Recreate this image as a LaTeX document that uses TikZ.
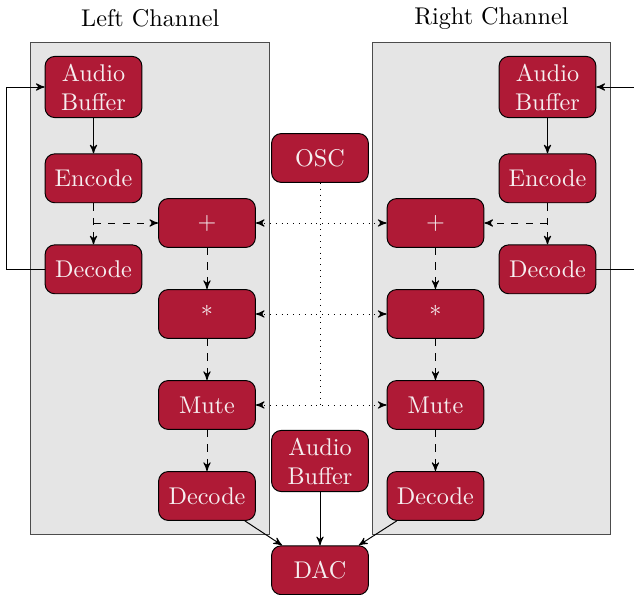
\documentclass[tikz,border=0pt]{standalone}
\usetikzlibrary{positioning,arrows,fit,calc}
\pgfdeclarelayer{bg}
\pgfsetlayers{bg,main}
\definecolor{blockred}{HTML}{AF1A36}
\definecolor{blocktext}{HTML}{F6EEF0}
\tikzset{
	>=stealth'
}

\begin{document}
\begin{tikzpicture}[
	x = 0.4132pt, y = -0.4132pt,
	node distance = 17pt,
	block/.style = {
		draw,
		fill = blockred,
		text = blocktext,
		rounded corners = 4pt,
		text width = 34pt,
		minimum width = 40pt,
		minimum height = 20.2pt,
		inner sep = 3pt,
		align = center,
	},
	channel/.style = {
		draw = black!70,
		fill = black!10,
		inner sep = 5.7pt,
	}
	]
	
	\useasboundingbox (0,0) rectangle (634,595);
	
	% left channel
	\node[block] (bufL) at (93.5,87) {Audio\\Buffer};
	\node[block, below = 14.6pt of bufL] (encL) {Encode};
	\node[block, below = of encL] (decL) {Decode};
	\node[block] (plusL) at (207,223) {+};
	\node[block, below = of plusL] (mulL) {*};
	\node[block, below = of mulL] (muteL) {Mute};
	\node[block, below = of muteL] (outL) {Decode};
	
	% middle
	\node[block] (osc) at (320,158) {OSC};
	\node[block] (bufM) at (320,461) {Audio\\Buffer};
	\node[block, below = 22pt of bufM] (dac) {DAC};
	
	% right channel
	\node[block, right = 54pt of plusL] (plusR) {+};
	\node[block, below = of plusR] (mulR) {*};
	\node[block, below = of mulR] (muteR) {Mute};
	\node[block, below = of muteR] (outR) {Decode};
	\node[block] (bufR) at (547.5,87) {Audio\\Buffer};
	\node[block, below = 14.6pt of bufR] (encR) {Encode};
	\node[block, below = of encR] (decR) {Decode};
	
	\begin{pgfonlayer}{bg}
		\node[channel, fit = (bufL)(decL)(plusL)(outL)] (left) {};
		\node[channel, fit = (bufR)(decR)(plusR)(outR)] (right) {};
	\end{pgfonlayer}
	\node[anchor = base] (leftname) at ([yshift=6.2pt]left.north) {Left Channel};
	\node[anchor = base] (rightname) at ([yshift=7pt]right.north) {Right Channel};
	
	\draw[->] (bufL) -- (encL);
	\draw[->, dashed] (encL) -- (decL);
	\draw[->, dashed] (encL |- plusL) -- (plusL);
	\draw[->] (decL.west) -- ++(-15.7pt,0) |- (bufL.west);
	\draw[->, dashed] (plusL) -- (mulL);
	\draw[->, dashed] (mulL) -- (muteL);
	\draw[->, dashed] (muteL) -- (outL);
	
	\draw[->] (bufR) -- (encR);
	\draw[->, dashed] (encR) -- (decR);
	\draw[->, dashed] (encR |- plusR) -- (plusR);
	\draw[->] (decR.east) -- ++(15.7pt,0) |- (bufR.east);
	\draw[->, dashed] (plusR) -- (mulR);
	\draw[->, dashed] (mulR) -- (muteR);
	\draw[->, dashed] (muteR) -- (outR);
	
	\draw[dotted] (osc) -- (osc |- muteL);
	\draw[<->, dotted] (plusL) -- (plusR);
	\draw[<->, dotted] (mulL) -- (mulR);
	\draw[<->, dotted] (muteL) -- (muteR);
	
	\draw[->] (outL) -- (dac);
	\draw[->] (bufM) -- (dac);
	\draw[->] (outR) -- (dac);
	
\end{tikzpicture}
\end{document}
